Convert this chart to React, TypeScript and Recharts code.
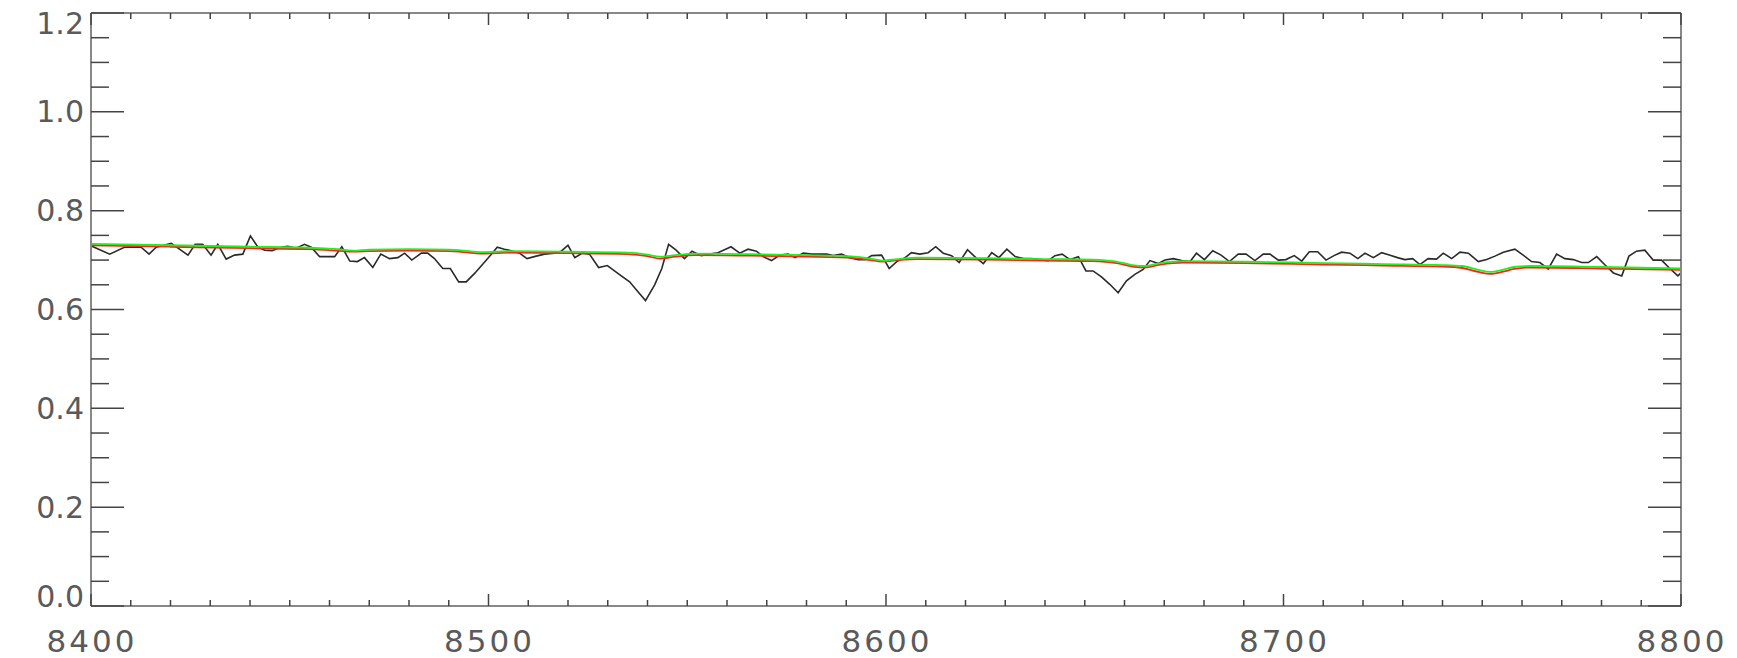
import { Line, LineChart, XAxis, YAxis } from 'recharts';

// observed spectrum (black)
const wave = [
  8400.0, 8404.7, 8408.4, 8412.6, 8414.6, 8416.4, 8420.2, 8424.4, 8426.2, 8428.1,
  8430.2, 8431.9, 8434.0, 8436.1, 8438.2, 8440.1, 8442.0, 8443.7, 8445.6, 8447.7,
  8449.5, 8451.6, 8453.7, 8455.4, 8457.5, 8461.3, 8463.1, 8465.1, 8467.0, 8468.8,
  8470.9, 8472.9, 8475.1, 8477.2, 8478.9, 8480.7, 8483.1, 8484.7, 8486.4, 8488.5,
  8490.4, 8492.5, 8494.4, 8496.5, 8499.8, 8502.2, 8504.0, 8505.7, 8507.8, 8509.7,
  8512.0, 8514.1, 8516.6, 8518.3, 8520.0, 8521.7, 8523.6, 8525.4, 8527.7, 8529.9,
  8531.7, 8533.4, 8535.5, 8537.6, 8539.5, 8541.8, 8543.6, 8545.3, 8547.2, 8549.3,
  8551.2, 8553.5, 8555.6, 8557.7, 8560.2, 8561.0, 8563.2, 8565.3, 8567.4, 8569.1,
  8571.2, 8573.3, 8575.4, 8577.1, 8579.2, 8581.3, 8583.0, 8585.1, 8586.7, 8588.8,
  8590.9, 8593.0, 8594.7, 8596.4, 8598.9, 8600.8, 8602.7, 8604.8, 8606.4, 8608.5,
  8610.6, 8612.5, 8614.4, 8616.5, 8618.4, 8620.5, 8622.6, 8624.5, 8626.6, 8628.4,
  8630.4, 8632.5, 8634.6, 8636.7, 8638.7, 8640.8, 8642.5, 8644.3, 8646.3, 8648.4,
  8650.3, 8652.1, 8654.2, 8656.3, 8658.4, 8660.5, 8662.6, 8664.7, 8666.4, 8668.5,
  8670.2, 8672.3, 8674.4, 8676.5, 8678.1, 8680.1, 8682.2, 8684.3, 8686.4, 8688.6,
  8690.6, 8692.8, 8694.9, 8696.6, 8698.7, 8700.6, 8702.7, 8704.6, 8706.5, 8708.6,
  8710.7, 8712.7, 8714.6, 8716.7, 8718.7, 8720.5, 8722.6, 8724.7, 8726.8, 8728.7,
  8730.5, 8732.5, 8734.3, 8736.4, 8738.5, 8740.2, 8742.3, 8744.4, 8746.5, 8749.0,
  8751.1, 8753.2, 8755.3, 8758.2, 8760.3, 8762.4, 8764.5, 8766.6, 8768.7, 8770.8,
  8772.9, 8775.0, 8776.7, 8778.8, 8780.9, 8783.0, 8785.1, 8786.9, 8788.8, 8790.9,
  8793.0, 8795.1, 8797.2, 8799.2, 8800.0,
];
const flux = [
  0.729, 0.712, 0.726, 0.726, 0.712, 0.726, 0.734, 0.710, 0.732, 0.732,
  0.710, 0.732, 0.702, 0.710, 0.712, 0.749, 0.726, 0.720, 0.719, 0.726,
  0.728, 0.724, 0.732, 0.726, 0.707, 0.707, 0.727, 0.698, 0.697, 0.705,
  0.685, 0.712, 0.703, 0.705, 0.714, 0.700, 0.714, 0.714, 0.703, 0.683,
  0.683, 0.656, 0.656, 0.673, 0.703, 0.726, 0.722, 0.719, 0.714, 0.703,
  0.708, 0.712, 0.714, 0.718, 0.730, 0.705, 0.714, 0.712, 0.685, 0.689,
  0.678, 0.668, 0.656, 0.636, 0.618, 0.650, 0.683, 0.732, 0.720, 0.703,
  0.718, 0.709, 0.712, 0.715, 0.724, 0.727, 0.714, 0.722, 0.718, 0.707,
  0.699, 0.710, 0.712, 0.705, 0.714, 0.712, 0.712, 0.712, 0.709, 0.712,
  0.705, 0.701, 0.701, 0.709, 0.710, 0.683, 0.697, 0.705, 0.715, 0.712,
  0.715, 0.727, 0.714, 0.709, 0.695, 0.721, 0.705, 0.693, 0.715, 0.705,
  0.722, 0.707, 0.703, 0.703, 0.701, 0.699, 0.709, 0.712, 0.701, 0.707,
  0.678, 0.678, 0.666, 0.651, 0.634, 0.658, 0.671, 0.681, 0.699, 0.693,
  0.700, 0.703, 0.699, 0.697, 0.714, 0.701, 0.719, 0.710, 0.697, 0.712,
  0.712, 0.699, 0.712, 0.712, 0.700, 0.701, 0.709, 0.698, 0.717, 0.717,
  0.700, 0.709, 0.716, 0.714, 0.703, 0.714, 0.705, 0.715, 0.710, 0.705,
  0.701, 0.703, 0.691, 0.703, 0.702, 0.714, 0.703, 0.716, 0.714, 0.697,
  0.701, 0.708, 0.716, 0.722, 0.710, 0.697, 0.695, 0.682, 0.712, 0.703,
  0.701, 0.695, 0.695, 0.707, 0.690, 0.674, 0.668, 0.708, 0.718, 0.720,
  0.700, 0.700, 0.683, 0.668, 0.674,
];

// model fits (red, green)
const modelWave = [
  8400, 8420, 8440, 8455, 8462, 8466, 8470, 8480, 8490, 8494,
  8498, 8502, 8506, 8520, 8535, 8540, 8543, 8547, 8552, 8565,
  8580, 8592, 8596, 8599, 8603, 8608, 8625, 8640, 8652, 8658,
  8662, 8665, 8669, 8675, 8690, 8710, 8725, 8740, 8745, 8749,
  8752, 8755, 8758, 8762, 8780, 8800,
];
const modelGreen = [
  0.733, 0.730, 0.727, 0.725, 0.722, 0.719, 0.721, 0.722, 0.721, 0.719,
  0.716, 0.717, 0.718, 0.717, 0.715, 0.711, 0.707, 0.710, 0.713, 0.712,
  0.710, 0.707, 0.703, 0.699, 0.702, 0.705, 0.704, 0.702, 0.701, 0.697,
  0.690, 0.688, 0.694, 0.698, 0.697, 0.694, 0.692, 0.690, 0.688, 0.680,
  0.676, 0.680, 0.686, 0.688, 0.686, 0.683,
];
const modelRed = [
  0.730, 0.727, 0.724, 0.722, 0.719, 0.717, 0.718, 0.719, 0.718, 0.716,
  0.713, 0.714, 0.715, 0.714, 0.712, 0.708, 0.703, 0.707, 0.710, 0.709,
  0.707, 0.704, 0.700, 0.697, 0.700, 0.702, 0.701, 0.699, 0.698, 0.694,
  0.687, 0.685, 0.691, 0.695, 0.694, 0.691, 0.689, 0.687, 0.684, 0.676,
  0.672, 0.676, 0.682, 0.685, 0.683, 0.680,
];

const xLabels = [8400, 8500, 8600, 8700, 8800];
const yLabels = [0, 0.2, 0.4, 0.6, 0.8, 1.0, 1.2];
const xTicks = Array.from({ length: 41 }, (_, i) => 8400 + i * 10);
const yTicks = Array.from({ length: 25 }, (_, i) => Math.round(i * 5) / 100);

const obs = wave.map((w, i) => ({ w, f: flux[i] }));
const model = modelWave.map((w, i) => ({ w, g: modelGreen[i], r: modelRed[i] }));

const tickColor = '#444';
const labelStyle = {
  fontFamily: 'DejaVu Sans',
  fontSize: 31,
  fill: '#5a5a5a',
  letterSpacing: 3,
};

const isYMajor = (v: number) => yLabels.some((l) => Math.abs(l - v) < 1e-6);
const isXMajor = (v: number) => xLabels.includes(v);

function LeftTick({ x, y, payload }: any) {
  const v = payload.value;
  const major = isYMajor(v);
  let dy = 0;
  if (v >= 1.2 - 1e-6) dy = 10;
  if (v <= 1e-6) dy = -10;
  return (
    <g>
      <line x1={x} x2={x + (major ? 33 : 18)} y1={y} y2={y} stroke={tickColor} strokeWidth={1.5} />
      {major && (
        <text
          x={x - 7}
          y={y + dy}
          textAnchor="end"
          dominantBaseline="central"
          {...labelStyle}
          fontSize={30}
          letterSpacing={0}
        >
          {v.toFixed(1)}
        </text>
      )}
    </g>
  );
}

function RightTick({ x, y, payload }: any) {
  const major = isYMajor(payload.value);
  return <line x1={x} x2={x - (major ? 33 : 18)} y1={y} y2={y} stroke={tickColor} strokeWidth={1.5} />;
}

function BottomTick({ x, y, payload }: any) {
  const v = payload.value;
  const major = isXMajor(v);
  return (
    <g>
      <line x1={x} x2={x} y1={y} y2={y - (major ? 12 : 6)} stroke={tickColor} strokeWidth={1.5} />
      {major && (
        <text x={x + 1} y={y + 46} textAnchor="middle" {...labelStyle}>
          {v}
        </text>
      )}
    </g>
  );
}

function TopTick({ x, y, payload }: any) {
  const major = isXMajor(payload.value);
  return <line x1={x} x2={x} y1={y} y2={y + (major ? 12 : 6)} stroke={tickColor} strokeWidth={1.5} />;
}

const axisLine = { stroke: '#888', strokeWidth: 2 };

export default function App() {
  return (
    <div style={{ position: 'absolute', left: 0, top: 0, background: '#fff' }}>
      <LineChart width={1737} height={658} margin={{ top: 12, right: 55, bottom: 0, left: 0 }}>
        <XAxis
          xAxisId="b"
          type="number"
          dataKey="w"
          domain={[8400, 8800]}
          ticks={xTicks}
          interval={0}
          height={52}
          tickSize={0}
          tickMargin={0}
          tickLine={false}
          axisLine={axisLine}
          tick={<BottomTick />}
          allowDataOverflow
        />
        <XAxis
          xAxisId="t"
          orientation="top"
          type="number"
          dataKey="w"
          domain={[8400, 8800]}
          ticks={xTicks}
          interval={0}
          height={1}
          tickSize={0}
          tickMargin={0}
          tickLine={false}
          axisLine={axisLine}
          tick={<TopTick />}
          allowDataOverflow
        />
        <YAxis
          yAxisId="l"
          type="number"
          domain={[0, 1.2]}
          ticks={yTicks}
          interval={0}
          width={91}
          tickSize={0}
          tickMargin={0}
          tickLine={false}
          axisLine={axisLine}
          tick={<LeftTick />}
          allowDataOverflow
        />
        <YAxis
          yAxisId="r"
          orientation="right"
          type="number"
          domain={[0, 1.2]}
          ticks={yTicks}
          interval={0}
          width={1}
          tickSize={0}
          tickMargin={0}
          tickLine={false}
          axisLine={axisLine}
          tick={<RightTick />}
          allowDataOverflow
        />
        <Line
          xAxisId="b"
          yAxisId="l"
          data={obs}
          dataKey="f"
          type="linear"
          stroke="#2a2a2a"
          strokeWidth={1.6}
          dot={false}
          isAnimationActive={false}
        />
        <Line
          xAxisId="b"
          yAxisId="l"
          data={model}
          dataKey="r"
          type="monotone"
          stroke="#ff2020"
          strokeWidth={1.8}
          dot={false}
          isAnimationActive={false}
        />
        <Line
          xAxisId="b"
          yAxisId="l"
          data={model}
          dataKey="g"
          type="monotone"
          stroke="#22ee22"
          strokeWidth={1.8}
          dot={false}
          isAnimationActive={false}
        />
      </LineChart>
    </div>
  );
}
